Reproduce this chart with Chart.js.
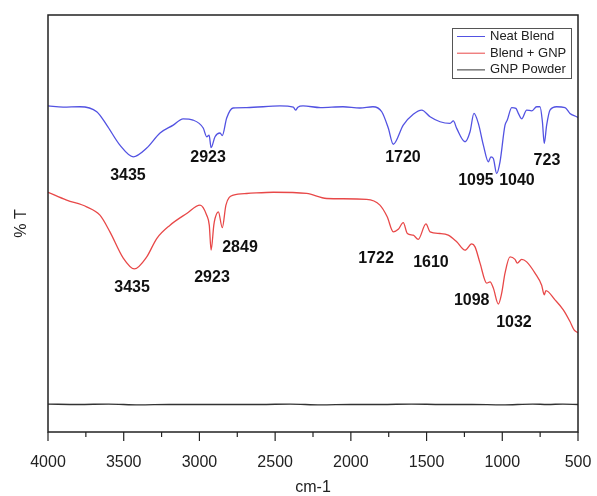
<!DOCTYPE html>
<html>
<head>
<meta charset="utf-8">
<script src="https://cdn.jsdelivr.net/npm/chart.js@4.4.1/dist/chart.umd.min.js"></script>
<style>
  html, body { margin: 0; padding: 0; background: #fff; }
  #wrap { width: 597px; height: 496px; }
</style>
</head>
<body>
<div id="wrap"><canvas id="ftir" width="597" height="496"></canvas></div>
<script>
// series (wavenumber in cm-1, transmittance in arbitrary % T)
const seriesNames = ['Neat Blend', 'Blend + GNP', 'GNP Powder'];

const neatWave = [4000, 3900, 3789, 3678, 3612, 3525, 3437, 3348, 3260, 3173, 3108, 3042, 2975, 2952, 2936, 2923, 2897, 2864, 2849, 2820, 2778, 2688, 2468, 2380, 2365, 2350, 2316, 2200, 2052, 1940, 1854, 1796, 1753, 1720, 1654, 1588, 1532, 1477, 1411, 1345, 1323, 1301, 1246, 1213, 1187, 1158, 1125, 1092, 1075, 1059, 1037, 1015, 982, 967, 938, 910, 894, 872, 839, 806, 773, 751, 735, 723, 707, 685, 641, 586, 553, 509, 500];
const neatT = [78.2, 77.9, 78.0, 76.8, 73.6, 68.8, 66.0, 68.1, 71.7, 73.6, 75.1, 74.8, 72.9, 70.8, 71.2, 68.2, 70.8, 71.7, 71.1, 75.3, 77.7, 77.8, 78.2, 77.9, 77.2, 77.9, 78.2, 77.8, 78.0, 77.7, 78.0, 76.8, 72.9, 69.0, 73.6, 76.2, 77.2, 75.6, 74.4, 74.0, 74.6, 72.8, 69.6, 72.0, 76.4, 74.0, 68.8, 64.8, 66.0, 65.6, 62.0, 64.8, 73.6, 74.8, 77.8, 77.6, 76.4, 75.1, 77.2, 77.0, 78.0, 78.0, 74.4, 69.2, 73.6, 77.2, 78.0, 77.8, 76.4, 75.6, 75.4];

const blendWave = [4000, 3877, 3745, 3657, 3591, 3503, 3430, 3348, 3282, 3194, 3084, 2996, 2952, 2935, 2923, 2905, 2897, 2875, 2849, 2825, 2776, 2688, 2512, 2292, 2160, 1896, 1808, 1760, 1720, 1687, 1654, 1627, 1588, 1555, 1504, 1477, 1411, 1357, 1301, 1246, 1202, 1180, 1147, 1103, 1081, 1059, 1026, 1004, 982, 949, 916, 901, 872, 839, 784, 740, 723, 712, 652, 597, 553, 526, 500];
const blendT = [57.5, 55.6, 54.0, 52.0, 48.0, 41.7, 39.1, 42.0, 46.4, 49.6, 52.4, 54.4, 52.0, 49.6, 43.6, 49.6, 51.2, 52.8, 49.0, 54.4, 56.8, 57.2, 57.5, 57.2, 56.0, 55.8, 54.4, 51.6, 48.0, 48.6, 50.2, 47.6, 47.2, 46.2, 49.9, 48.0, 47.6, 47.2, 45.6, 43.6, 45.1, 44.4, 40.5, 35.7, 36.0, 34.5, 30.7, 33.3, 38.1, 42.0, 41.4, 40.5, 41.4, 40.8, 38.1, 35.2, 32.9, 33.9, 31.7, 29.3, 26.5, 24.5, 23.8];

const gnpWave = [4000, 3800, 3600, 3400, 3200, 3000, 2800, 2600, 2400, 2200, 2000, 1800, 1600, 1400, 1200, 1000, 800, 700, 600, 500];
const gnpT = [6.7, 6.6, 6.7, 6.5, 6.6, 6.6, 6.6, 6.6, 6.7, 6.5, 6.6, 6.6, 6.7, 6.6, 6.6, 6.5, 6.7, 6.6, 6.7, 6.6];

// tick labels on the wavenumber axis
const xTicks = [500, 1000, 1500, 2000, 2500, 3000, 3500, 4000];

// peak labels: [text, wavenumber, %T] where the label sits
const neatPeaks = [['3435', 3472, 61.6], ['2923', 2943, 65.7], ['1720', 1656, 65.7], ['1095', 1174, 60.4], ['1040', 903, 60.4], ['723', 705, 65.1]];
const blendPeaks = [['3435', 3445, 34.7], ['2923', 2917, 37.1], ['2849', 2732, 44.2], ['1722', 1834, 41.7], ['1610', 1471, 40.6], ['1098', 1202, 31.4], ['1032', 923, 26.2]];

const colors = ['#5252e2', '#e84848', '#333333'];

function pts(xs, ys) {
    const out = [];
    for (let n = 0; n < xs.length; n++) {
        out.push({x: xs[n], y: ys[n]});
    }
    return out;
}

const framePlugin = {
    id: 'frame',
    afterDraw(chart) {
        const ctx = chart.ctx;
        const a = chart.chartArea;
        const xs = chart.scales.x;
        const ys = chart.scales.y;
        ctx.save();
        // frame
        ctx.strokeStyle = '#222';
        ctx.lineWidth = 1.5;
        ctx.strokeRect(a.left, a.top, a.right - a.left, a.bottom - a.top);
        // major + minor ticks, outward
        ctx.lineWidth = 1.2;
        for (let v = 500; v <= 4000; v += 250) {
            const px = xs.getPixelForValue(v);
            const len = v % 500 === 0 ? 9 : 5;
            ctx.beginPath();
            ctx.moveTo(px, a.bottom);
            ctx.lineTo(px, a.bottom + len);
            ctx.stroke();
        }
        // peak labels
        ctx.fillStyle = '#111';
        ctx.font = 'bold 16px "Liberation Sans", Arial, sans-serif';
        ctx.textAlign = 'center';
        ctx.textBaseline = 'middle';
        neatPeaks.concat(blendPeaks).forEach(p => {
            ctx.fillText(p[0], xs.getPixelForValue(p[1]), ys.getPixelForValue(p[2]));
        });
        // legend
        const lx = 452, ly = 28, lw = 119, lh = 50;
        ctx.fillStyle = '#fff';
        ctx.fillRect(lx, ly, lw, lh);
        ctx.strokeStyle = '#555';
        ctx.lineWidth = 1;
        ctx.strokeRect(lx + 0.5, ly + 0.5, lw, lh);
        ctx.font = '13px "Liberation Sans", Arial, sans-serif';
        ctx.textAlign = 'left';
        chart.data.datasets.forEach((ds, i) => {
            const y = ly + 8.5 + i * 16.7;
            ctx.strokeStyle = ds.borderColor;
            ctx.lineWidth = 1;
            ctx.beginPath();
            ctx.moveTo(lx + 5, y);
            ctx.lineTo(lx + 33, y);
            ctx.stroke();
            ctx.fillStyle = '#222';
            ctx.fillText(ds.label, lx + 38, y);
        });
        ctx.restore();
    }
};

const chart = document.querySelector('#ftir').getContext('2d');
const myChart = new Chart(chart, {
    type: 'line',
    data: {
        datasets: [
            {label: seriesNames[0], data: pts(neatWave, neatT), borderColor: colors[0]},
            {label: seriesNames[1], data: pts(blendWave, blendT), borderColor: colors[1]},
            {label: seriesNames[2], data: pts(gnpWave, gnpT), borderColor: colors[2]}
        ].map(d => Object.assign(d, {borderWidth: 1.3, pointRadius: 0, cubicInterpolationMode: 'monotone', fill: false}))
    },
    options: {
        responsive: false,
        animation: false,
        events: [],
        layout: {padding: {top: 15, right: 19, left: 0, bottom: 0}},
        plugins: {legend: {display: false}, tooltip: {enabled: false}},
        scales: {
            x: {
                type: 'linear',
                reverse: true,
                min: 500,
                max: 4000,
                afterBuildTicks: s => { s.ticks = xTicks.map(v => ({value: v})); },
                afterFit: s => { s.height = 64; s.paddingLeft = 0; s.paddingRight = 0; },
                grid: {display: false, drawTicks: false},
                border: {display: false},
                ticks: {
                    padding: 21,
                    color: '#222',
                    font: {family: '"Liberation Sans", Arial, sans-serif', size: 16},
                    callback: v => String(v)
                },
                title: {
                    display: true,
                    text: 'cm-1',
                    color: '#222',
                    font: {family: '"Liberation Sans", Arial, sans-serif', size: 16, lineHeight: 1},
                    padding: {top: 0, bottom: 0}
                }
            },
            y: {
                min: 0,
                max: 100,
                afterFit: s => { s.width = 48; },
                grid: {display: false, drawTicks: false},
                border: {display: false},
                ticks: {display: false},
                title: {
                    display: true,
                    text: '% T',
                    color: '#222',
                    font: {family: '"Liberation Sans", Arial, sans-serif', size: 16, lineHeight: 1},
                    padding: {top: 14, bottom: 0}
                }
            }
        }
    },
    plugins: [framePlugin]
});
</script>
</body>
</html>
